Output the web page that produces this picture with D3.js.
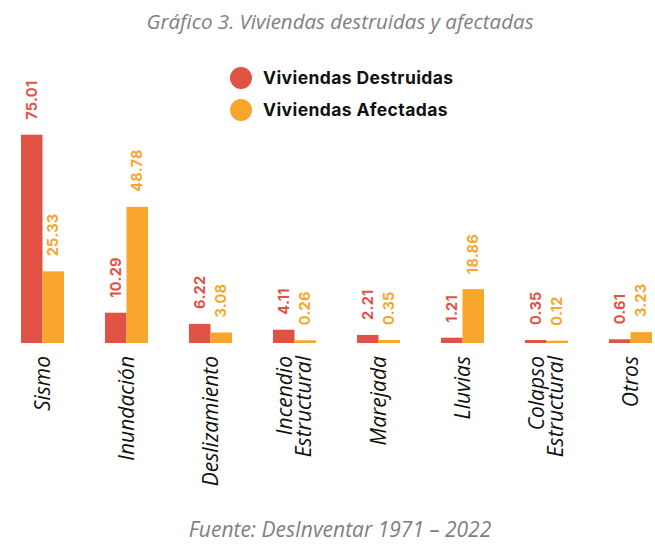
<!DOCTYPE html>
<html>
<head>
<meta charset="utf-8">
<script src="https://cdn.jsdelivr.net/npm/d3@7"></script>
<style>
  body { margin: 0; background: #fff; }
  .title, .source { font-family: 'Open Sans', sans-serif; font-style: italic; fill: #7f7f7f; }
  .cat { font-family: 'Open Sans', sans-serif; font-style: italic; fill: #111; }
  .legend text { font-family: Inter, sans-serif; font-weight: 700; fill: #111; letter-spacing: 0.4px; }
  .val { font-family: Inter, sans-serif; font-weight: 700; letter-spacing: 0.3px; }
</style>
</head>
<body>
<div id="chart"></div>
<script>
// data
const categories = ['Sismo', 'Inundación', 'Deslizamiento', 'Incendio Estructural',
  'Marejada', 'Lluvias', 'Colapso Estructural', 'Otros'];
const destruidas = [75.01, 10.29, 6.22, 4.11, 2.21, 1.21, 0.35, 0.61];
const afectadas = [25.33, 48.78, 3.08, 0.26, 0.35, 18.86, 0.12, 3.23];
const seriesNames = ['Viviendas Destruidas', 'Viviendas Afectadas'];
const colors = ['#e05244', '#f7a62b'];

const W = 655, H = 544;
const base = 343; // bottom edge of the bars

const svg = d3.select('#chart')
  .append('svg')
  .attr('width', W)
  .attr('height', H);

const x = d3.scaleBand().domain(categories).range([21, 652]).paddingInner(0.488).paddingOuter(0);
const xs = d3.scaleBand().domain([0, 1]).range([0, x.bandwidth()]);
// zero sits a little above the bar bottoms, so tiny values still show a sliver
const y = d3.scaleLinear().domain([0, 80]).range([base - 2, base - 2 - 80 * 2.75]);

svg.append('text')
  .attr('class', 'title')
  .attr('x', 340).attr('y', 29)
  .attr('text-anchor', 'middle')
  .style('font-size', '20.5px')
  .text('Gráfico 3. Viviendas destruidas y afectadas');

// legend
const legend = svg.append('g').attr('class', 'legend');
seriesNames.forEach((name, i) => {
  const ly = 78 + i * 32;
  legend.append('circle')
    .attr('cx', 241).attr('cy', ly).attr('r', 11)
    .attr('fill', colors[i]);
  legend.append('text')
    .attr('x', 263).attr('y', ly)
    .attr('dy', '0.36em')
    .style('font-size', '17.5px')
    .text(name);
});

const series = [destruidas, afectadas];
const groups = svg.selectAll('g.group')
  .data(categories)
  .enter()
  .append('g')
  .attr('class', 'group')
  .attr('transform', d => `translate(${x(d)}, 0)`);

series.forEach((vals, s) => {
  groups.append('rect')
    .attr('x', xs(s))
    .attr('y', (d, i) => y(vals[i]))
    .attr('width', xs.bandwidth())
    .attr('height', (d, i) => base - y(vals[i]))
    .attr('fill', colors[s]);
  groups.append('text')
    .attr('class', 'val')
    .attr('transform', (d, i) => `translate(${xs(s) + xs.bandwidth() / 2}, ${y(vals[i]) - 15}) rotate(-90)`)
    .attr('dy', '0.36em')
    .attr('fill', colors[s])
    .style('font-size', '14.5px')
    .text((d, i) => vals[i].toFixed(2));
});

// category labels, rotated, split in two lines where needed
groups.append('text')
  .attr('class', 'cat')
  .attr('transform', `translate(${x.bandwidth() / 2}, 356) rotate(-90)`)
  .attr('text-anchor', 'end')
  .style('font-size', '21px')
  .each(function(d) {
    const words = d.split(' ');
    const t = d3.select(this);
    words.forEach((w, k) => {
      t.append('tspan')
        .attr('x', 0)
        .attr('dy', k === 0 ? `${0.35 - (words.length - 1) * 0.45}em` : '0.9em')
        .text(w);
    });
  });

svg.append('text')
  .attr('class', 'source')
  .attr('x', 340).attr('y', 537)
  .attr('text-anchor', 'middle')
  .style('font-size', '21px')
  .text('Fuente: DesInventar 1971 – 2022');
</script>
</body>
</html>
